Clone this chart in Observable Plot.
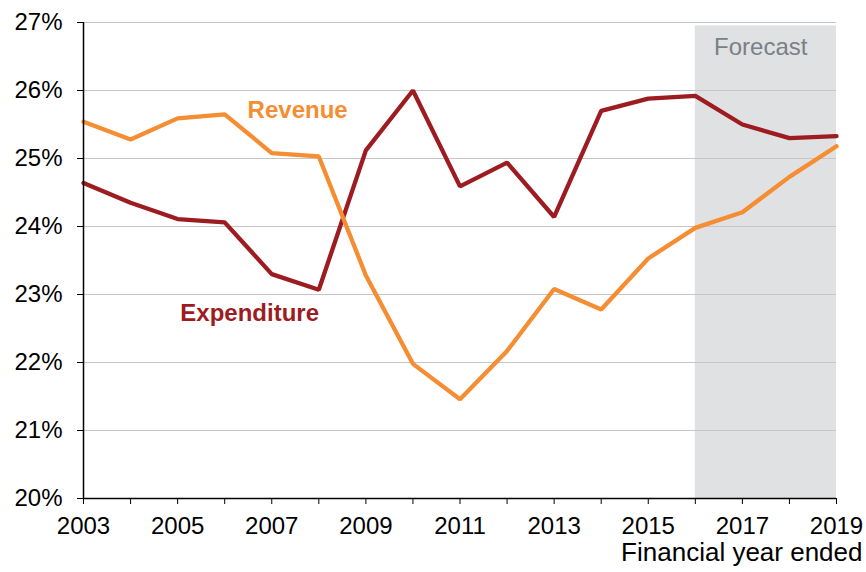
<!DOCTYPE html>
<html>
<head>
<meta charset="utf-8">
<script src="https://cdn.jsdelivr.net/npm/d3@7"></script>
<script src="https://cdn.jsdelivr.net/npm/@observablehq/plot@0.6"></script>
<style>
  html, body { margin: 0; padding: 0; background: #fff; }
  #chart svg { display: block; }
</style>
</head>
<body>
<div id="chart"></div>
<script>
const years = [2003,2004,2005,2006,2007,2008,2009,2010,2011,2012,2013,2014,2015,2016,2017,2018,2019];
const revenue = [25.54,25.28,25.59,25.65,25.08,25.03,23.28,21.98,21.46,22.17,23.08,22.78,23.53,23.98,24.21,24.73,25.18];
const expenditure = [24.64,24.35,24.11,24.06,23.30,23.07,25.12,26.00,24.59,24.94,24.14,25.70,25.88,25.92,25.50,25.30,25.33];
const yTicks = [20,21,22,23,24,25,26,27];
const xLabelYears = [2003,2005,2007,2009,2011,2013,2015,2017,2019];
const forecastStart = 2016, forecastEnd = 2019, forecastTop = 26.95;

const revData = years.map((y, i) => ({year: y, value: revenue[i]}));
const expData = years.map((y, i) => ({year: y, value: expenditure[i]}));

const chart = Plot.plot({
  width: 866,
  height: 572,
  marginLeft: 83,
  marginRight: 30,
  marginTop: 22,
  marginBottom: 74,
  style: {fontFamily: "'Liberation Sans', Arial, sans-serif", fontSize: "24px", color: "#000", background: "#fff"},
  x: {domain: [2003, 2019]},
  y: {domain: [20, 27]},
  marks: [
    Plot.rect([{x1: forecastStart, x2: forecastEnd, y1: 20, y2: forecastTop}], {x1: "x1", x2: "x2", y1: "y1", y2: "y2", fill: "#e0e1e3"}),
    Plot.gridY(yTicks.filter(d => d > 20), {stroke: "#c6c6c6", strokeOpacity: 1, strokeWidth: 1.2}),
    Plot.text(["Forecast"], {x: 2017.39, y: 26.64, fill: "#7a8087", fontSize: 24, textAnchor: "middle"}),
    Plot.line(expData, {x: "year", y: "value", stroke: "#9d1c22", strokeWidth: 4.3, strokeLinejoin: "miter"}),
    Plot.line(revData, {x: "year", y: "value", stroke: "#f58d33", strokeWidth: 4.3, strokeLinejoin: "miter"}),
    Plot.text(["Revenue"], {x: 2007.55, y: 25.71, fill: "#f58d33", fontWeight: "bold", fontSize: 24}),
    Plot.text(["Expenditure"], {x: 2006.53, y: 22.73, fill: "#9d1c22", fontWeight: "bold", fontSize: 24}),
    Plot.axisY({ticks: yTicks, tickFormat: d => d + "%", tickSize: 6, tickPadding: 15, fontSize: 24, label: null, stroke: "#000"}),
    Plot.axisX({ticks: years, tickFormat: d => xLabelYears.includes(d) ? String(d) : "", tickSize: 6, tickPadding: 12, fontSize: 24, label: null}),
    Plot.ruleX([2003], {stroke: "#000", strokeWidth: 1.5}),
    Plot.ruleY([20], {stroke: "#000", strokeWidth: 1.5}),
    Plot.text(["Financial year ended"], {frameAnchor: "bottom-right", dx: 26, dy: 62.5, textAnchor: "end", fontSize: 26, fill: "#000"})
  ]
});
document.getElementById("chart").appendChild(chart);
</script>
</body>
</html>
